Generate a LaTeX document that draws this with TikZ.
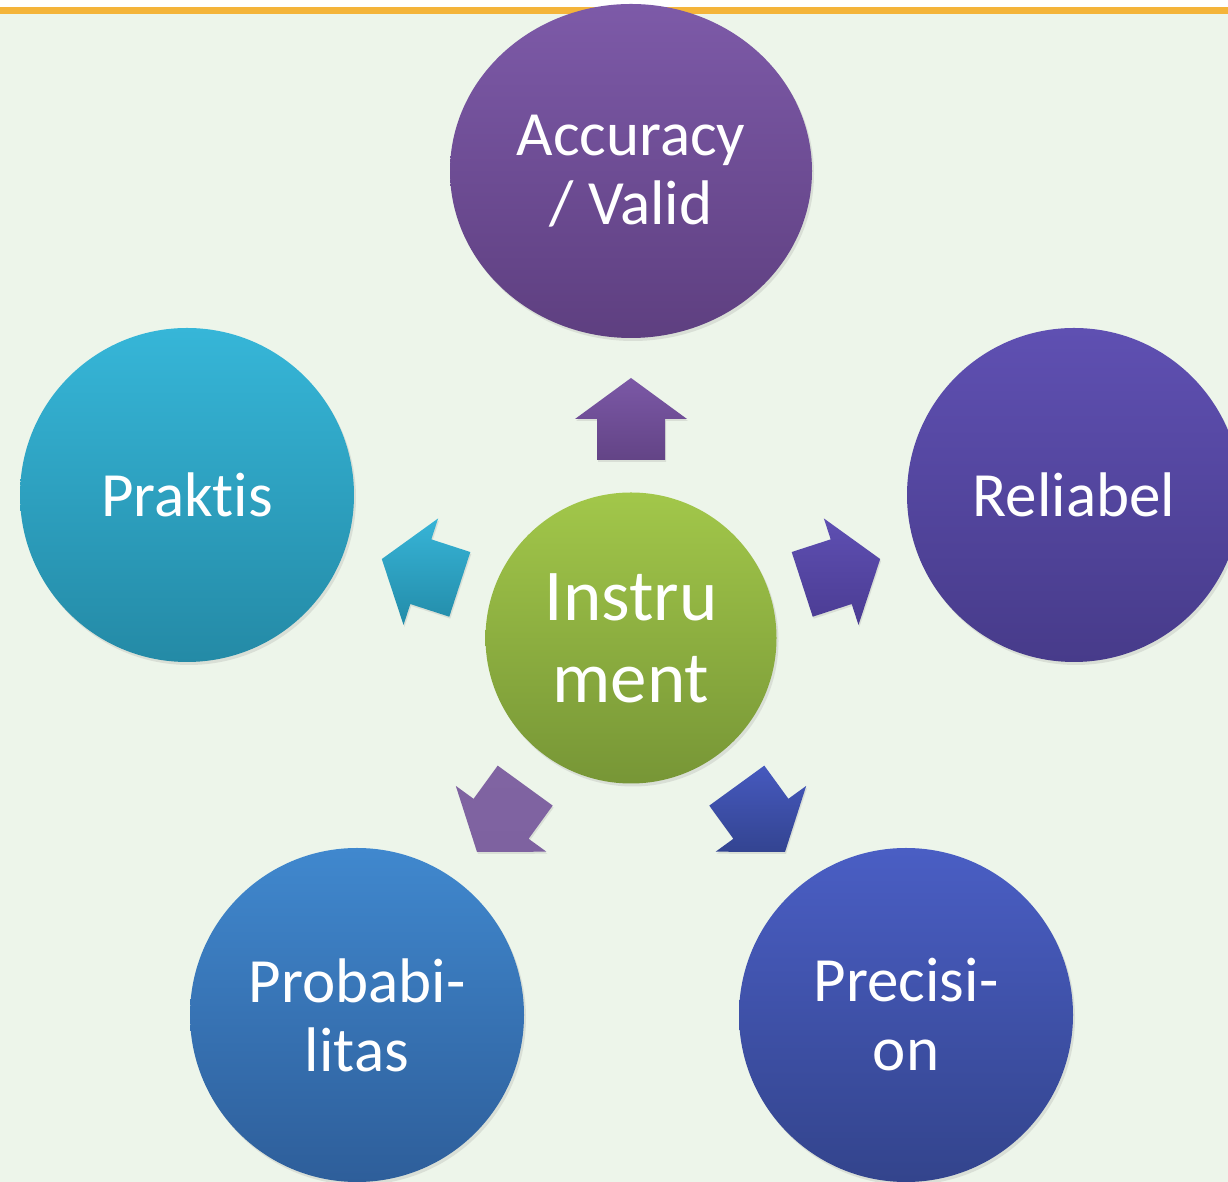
\documentclass[tikz,border=0pt]{standalone}
\usepackage{fontspec}
\setmainfont{Carlito}[Ligatures={NoCommon,NoContextual}]
\usetikzlibrary{shapes.geometric,calc,shadows}
\definecolor{bgcol}{HTML}{EDF5EA}
\definecolor{linecol}{HTML}{F4B43A}
\definecolor{accT}{HTML}{7D5AA8}\definecolor{accB}{HTML}{5E3F80}
\definecolor{relT}{HTML}{5F50B2}\definecolor{relB}{HTML}{473B8A}
\definecolor{precT}{HTML}{4A5EC4}\definecolor{precB}{HTML}{33448C}
\definecolor{probT}{HTML}{4088CE}\definecolor{probB}{HTML}{2E5E9A}
\definecolor{prakT}{HTML}{36B6D8}\definecolor{prakB}{HTML}{248AA6}
\definecolor{instT}{HTML}{A2C74A}\definecolor{instB}{HTML}{779636}
\definecolor{aTopT}{HTML}{7B58A6}\definecolor{aTopB}{HTML}{634486}
\definecolor{aRelT}{HTML}{5E4FB2}\definecolor{aRelB}{HTML}{4B3C93}
\definecolor{aPrecT}{HTML}{4659BE}\definecolor{aPrecB}{HTML}{334491}
\definecolor{aProbT}{HTML}{8064A2}\definecolor{aProbB}{HTML}{7E62A0}
\definecolor{aPrakT}{HTML}{37B4D7}\definecolor{aPrakB}{HTML}{238CA9}
\tikzset{
  bubble/.style={circle, minimum size=334pt, inner sep=0pt, text=white, align=center,
    font=\fontsize{63}{69}\selectfont,
    drop shadow={opacity=0.18, shadow xshift=2pt, shadow yshift=-3pt}},
  arrowshape/.style={drop shadow={opacity=0.18, shadow xshift=1pt, shadow yshift=-2pt}}
}
\begin{document}
\begin{tikzpicture}[x=1pt,y=1pt]
\useasboundingbox (0,0) rectangle (1228,1182);
\clip (0,0) rectangle (1228,1182);
\fill[bgcol] (0,0) rectangle (1228,1182);
\fill[white] (0,1175) rectangle (1228,1182);
\fill[linecol] (0,1168) rectangle (1228,1175);

\node[bubble, ellipse, minimum width=362pt, minimum height=334pt, top color=accT, bottom color=accB] (acc) at (631,1011) {Accuracy\\/ Valid};
\node[bubble, top color=prakT, bottom color=prakB] (prak) at (187,687) {Praktis};
\node[bubble, top color=relT, bottom color=relB] (rel) at (1074,687) {Reliabel};
\node[bubble, top color=probT, bottom color=probB] (prob) at (357,167) {Probabi-\\litas};
\node[bubble, top color=precT, bottom color=precB] (prec) at (906,167) {Precisi-\\on};
\node[bubble, minimum size=291pt, font=\fontsize{73}{82}\selectfont, top color=instT, bottom color=instB] (inst) at (631,544) {Instru\\ment};

\foreach \ang/\ct/\cb in {90/aTopT/aTopB, 18/aRelT/aRelB, -54/aPrecT/aPrecB, -126/aProbT/aProbB, 162/aPrakT/aPrakB}{
  \path[arrowshape, top color=\ct, bottom color=\cb]
    ($(inst.center)+(0,-2)+(\ang:262)$) --
    ($(inst.center)+(0,-2)+(\ang:221)+(\ang+90:56)$) --
    ($(inst.center)+(0,-2)+(\ang:221)+(\ang+90:34)$) --
    ($(inst.center)+(0,-2)+(\ang:180)+(\ang+90:34)$) --
    ($(inst.center)+(0,-2)+(\ang:180)+(\ang-90:34)$) --
    ($(inst.center)+(0,-2)+(\ang:221)+(\ang-90:34)$) --
    ($(inst.center)+(0,-2)+(\ang:221)+(\ang-90:56)$) -- cycle;
}
\end{tikzpicture}
\end{document}
